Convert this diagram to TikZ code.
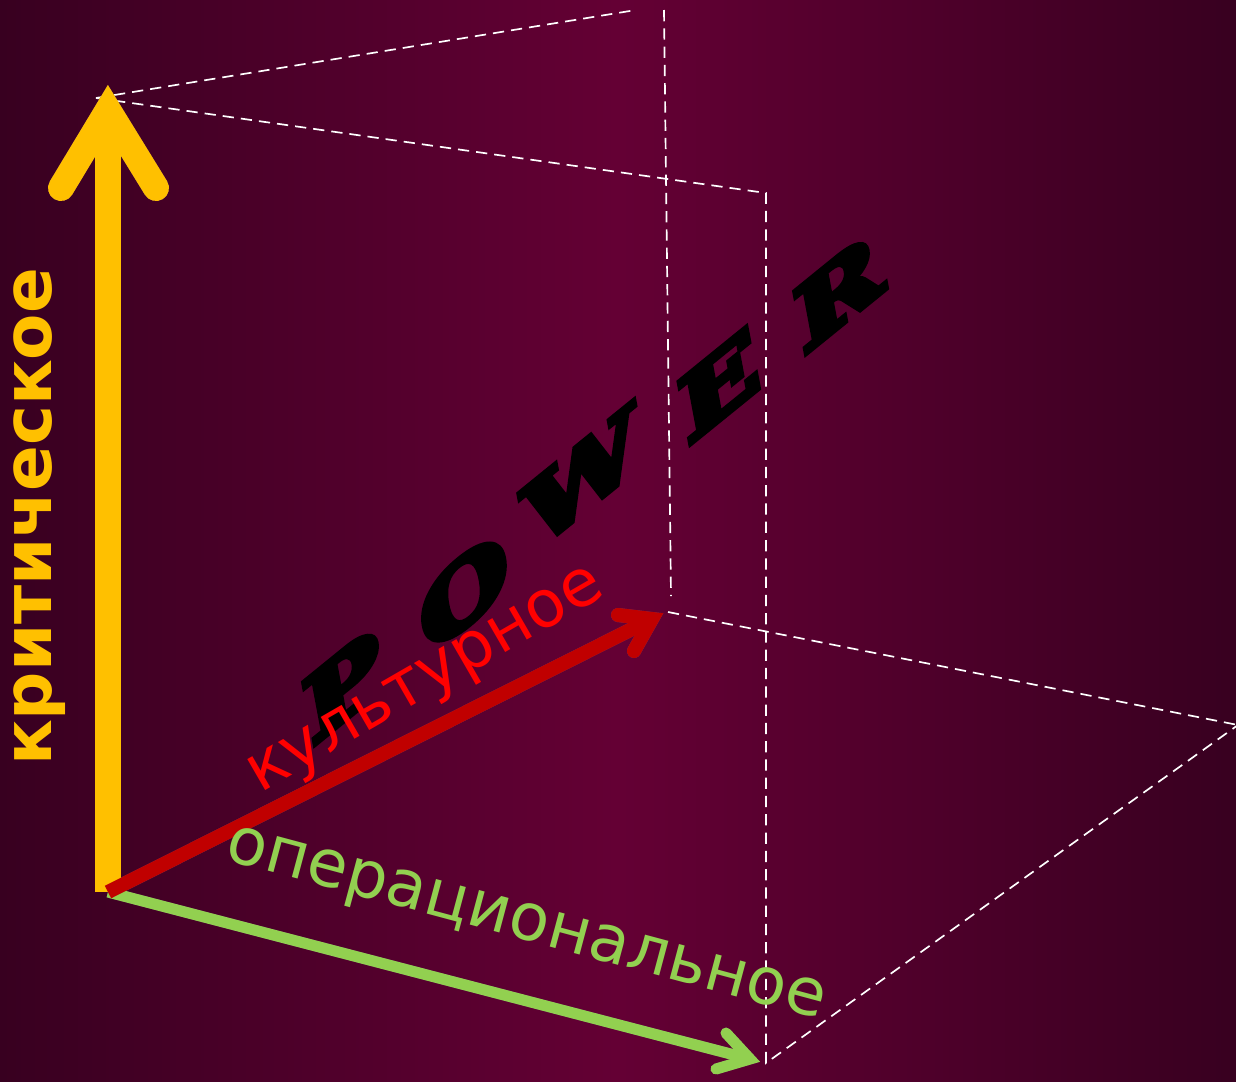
\documentclass[tikz,border=0pt]{standalone}
\usepackage{fontspec}
\setmainfont{DejaVu Sans}
\newfontfamily\powerfont{DejaVu Serif}[UprightFont=* Bold, FakeBold=7]
\definecolor{bgedge}{RGB}{56,0,32}
\definecolor{bgmid}{RGB}{100,0,52}
\definecolor{axyellow}{RGB}{255,192,0}
\definecolor{axred}{RGB}{192,0,0}
\definecolor{txtred}{RGB}{255,0,0}
\definecolor{axgreen}{RGB}{146,208,80}
\definecolor{axshadow}{RGB}{110,60,100}
\usetikzlibrary{calc}
\tikzset{
  guide/.style={white,line width=1.2pt,dash pattern=on 8pt off 5pt},
  stem/.style={line width=#1,line cap=butt},
  head/.style={line width=#1,line cap=round,line join=miter,miter limit=10},
  shadowed/.style={axshadow,shift={(2.5,4)}},
  lbl/.style={font=\fontsize{46.5}{46.5}\selectfont,inner sep=0pt},
  powerletter/.style={font=\powerfont\fontsize{40}{40}\selectfont,text=black,
                      inner sep=0pt,cm={1.75,1.42,-0.28,1.5,(0,0)}},
}
\begin{document}
\begin{tikzpicture}[x=0.025cm,y=-0.025cm]
  \fill[left color=bgedge,right color=bgedge,middle color=bgmid]
       (0,0) rectangle (1236,1081);
  \useasboundingbox (0,0) rectangle (1236,1081);

  % box edges
  \coordinate (tl) at (96,98);
  \coordinate (tt) at (636,10);
  \coordinate (vt) at (664,10);
  \coordinate (vb) at (671,596);
  \coordinate (cr) at (766,193);
  \coordinate (fb) at (766,1063);
  \coordinate (mr) at (668,612);
  \coordinate (re) at (1238,725);
  \draw[guide] (tl) -- (tt);
  \draw[guide] (tl) -- (cr) -- (fb) -- (re);
  \draw[guide] (vt) -- (vb);
  \draw[guide] (mr) -- (re);

  % axes
  \coordinate (orig) at (108,892);
  \coordinate (ytip) at (108,110);
  \coordinate (yl) at (61,188);
  \coordinate (yr) at (156,188);
  \coordinate (rtip) at (652,619);
  \coordinate (rl) at (618,615);
  \coordinate (rr) at (634,651);
  \coordinate (gtip) at (750,1059);
  \coordinate (gl) at (726,1033);
  \coordinate (gr) at (716,1069);

  \begin{scope}[shadowed]
    \draw[stem=18.5pt] (orig) -- (ytip);
    \draw[head=18.5pt] (yl) -- (ytip) -- (yr);
    \draw[stem=7.8pt] (orig) -- (gtip);
    \draw[head=7.8pt] (gl) -- (gtip) -- (gr);
    \draw[stem=10pt] (orig) -- (rtip);
    \draw[head=10pt] (rl) -- (rtip) -- (rr);
  \end{scope}
  \draw[stem=18.5pt,axyellow] (orig) -- (ytip);
  \draw[head=18.5pt,axyellow] (yl) -- (ytip) -- (yr);
  \draw[stem=7.8pt,axgreen] (orig) -- (gtip);
  \draw[head=7.8pt,axgreen] (gl) -- (gtip) -- (gr);
  \draw[stem=10pt,axred] (orig) -- (rtip);
  \draw[head=10pt,axred] (rl) -- (rtip) -- (rr);

  \foreach \ch/\px/\py in {P/343/686,O/464/592,W/582/478,E/719/385,R/838/292}
    \node[powerletter] (let\ch) at (\px,\py) {\ch};

  % labels
  \node[lbl,font=\bfseries\fontsize{48}{48}\selectfont,text=axyellow,rotate=90]
       (crit) at (40,517) {критическое};
  \node[lbl,text=txtred,rotate=30] (cult) at (428,684) {культурное};
  \node[lbl,text=axgreen,rotate=-15] (oper) at (525,928) {операциональное};
\end{tikzpicture}
\end{document}
